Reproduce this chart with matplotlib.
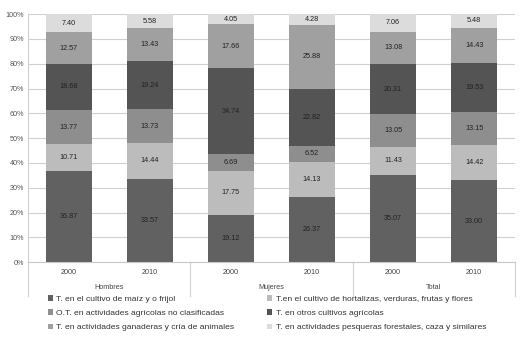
import numpy as np
import matplotlib.pyplot as plt
from matplotlib.patches import Patch
from matplotlib.transforms import blended_transform_factory

plt.rcParams['font.family'] = ['Liberation Sans', 'DejaVu Sans']

# Datos (porcentaje) por grupo y año
anios = ['2000', '2010', '2000', '2010', '2000', '2010']
grupos = ['Hombres', 'Mujeres', 'Total']

maiz = [36.87, 33.57, 19.12, 26.37, 35.07, 33.00]
hortalizas = [10.71, 14.44, 17.75, 14.13, 11.43, 14.42]
no_clasif = [13.77, 13.73, 6.69, 6.52, 13.05, 13.15]
otros = [18.68, 19.24, 34.74, 22.82, 20.31, 19.53]
ganaderas = [12.57, 13.43, 17.66, 25.88, 13.08, 14.43]
pesqueras = [7.40, 5.58, 4.05, 4.28, 7.06, 5.48]

series = [
    (maiz, 'T. en el cultivo de maíz y o frijol', '#616161'),
    (hortalizas, 'T.en el cultivo de hortalizas, verduras, frutas y flores', '#bcbcbc'),
    (no_clasif, 'O.T. en actividades agrícolas no clasificadas', '#8e8e8e'),
    (otros, 'T. en otros cultivos agrícolas', '#545454'),
    (ganaderas, 'T. en actividades ganaderas y cría de animales', '#a0a0a0'),
    (pesqueras, 'T. en actividades pesqueras forestales, caza y similares', '#dcdcdc'),
]

fig = plt.figure(figsize=(5.2, 3.44), dpi=100)
ax = fig.add_axes([0.054, 0.238, 0.936, 0.721])

x = np.arange(len(anios))
bottom = np.zeros(len(anios))
handles = []
for vals, label, color in series:
    vals = np.array(vals)
    ax.bar(x, vals, 0.57, bottom=bottom, color=color, zorder=2)
    for xi, b, v in zip(x, bottom, vals):
        ax.text(xi, b + v / 2, f'{v:.2f}', ha='center', va='center',
                fontsize=5.2, color='#222222', zorder=3)
    bottom += vals
    handles.append(Patch(facecolor=color, label=label))

ax.set_xlim(-0.5, 5.5)
ax.set_ylim(0, 100)
ax.set_yticks(np.arange(0, 101, 10))
ax.set_yticklabels([f'{t}%' for t in range(0, 101, 10)])
ax.tick_params(axis='y', length=0, labelsize=5.2, labelcolor='#555555', pad=3)
ax.tick_params(axis='x', length=0)
ax.set_xticks([])
ax.grid(axis='y', color='#d0d0d0', linewidth=0.8, zorder=0)
for s in ['top', 'right']:
    ax.spines[s].set_visible(False)
ax.spines['left'].set_color('#d0d0d0')
ax.spines['bottom'].set_color('#c8c8c8')

# eje de categorías en dos niveles
trans = blended_transform_factory(ax.transData, ax.transAxes)
for xi, a in zip(x, anios):
    ax.text(xi, -0.04, a, transform=trans, ha='center', va='center',
            fontsize=5.2, color='#444444')
for gi, g in enumerate(grupos):
    ax.text(2 * gi + 0.5, -0.103, g, transform=trans, ha='center', va='center',
            fontsize=5.2, color='#444444')
for xs in [-0.5, 1.5, 3.5, 5.5]:
    ax.plot([xs, xs], [0, -0.135], transform=trans, color='#d0d0d0',
            linewidth=0.8, clip_on=False)

orden = [handles[0], handles[2], handles[4], handles[1], handles[3], handles[5]]
fig.legend(handles=orden, loc='upper left', bbox_to_anchor=(0.092, 0.142),
           ncol=2, frameon=False, fontsize=6.1, handlelength=0.6,
           handleheight=0.6, handletextpad=0.4, columnspacing=3.9,
           labelspacing=0.78, borderaxespad=0, borderpad=0,
           labelcolor='#333333')

fig.savefig('out.png', dpi=100)
